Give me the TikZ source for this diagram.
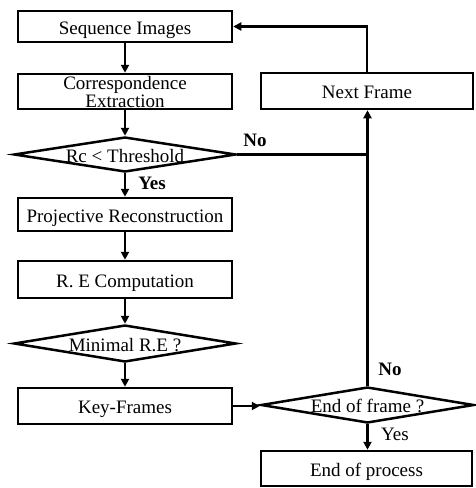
\documentclass[tikz,border=0pt]{standalone}
\usepackage{fontspec}
\setmainfont{Liberation Serif}
\usetikzlibrary{shapes.geometric,arrows.meta}
\begin{document}
\begin{tikzpicture}[x=1pt,y=-1pt,
  box/.style={draw,line width=2.5pt,minimum width=214pt,inner sep=0pt,align=center,font=\fontsize{19}{18}\selectfont},
  one/.style={text height=15pt,text depth=0pt},
  dia/.style={draw,diamond,line width=2.5pt,inner sep=0pt},
  txt/.style={inner sep=0pt,text height=15pt,text depth=0pt,font=\fontsize{19}{18}\selectfont},
  lbl/.style={txt,font=\fontsize{19}{18}\selectfont\bfseries},
  arr/.style={line width=2.5pt,-{Triangle[length=8pt,width=8pt]}},
  ln/.style={line width=2.5pt}]
\useasboundingbox[fill=white] (0,0) rectangle (475,488);
% left column
\node[box,one,minimum height=31pt] (seq) at (125,26.5) {Sequence Images};
\node[box,minimum height=35pt] (corr) at (125,91.5) {Correspondence\\Extraction};
\node[dia,minimum width=222pt,minimum height=35pt] (rc) at (125,154.5) {};
\node[txt] (rct) at (125,154.5) {Rc < Threshold};
\node[box,one,minimum height=33pt] (proj) at (125,214.5) {Projective Reconstruction};
\node[box,one,minimum height=37pt] (re) at (125,279.5) {R. E Computation};
\node[dia,minimum width=222pt,minimum height=37pt] (min) at (125,343.5) {};
\node[txt] (mint) at (125,343.5) {Minimal R.E ?};
\node[box,one,minimum height=36pt] (key) at (125,406) {Key-Frames};
% right column
\node[box,one,minimum width=212pt,minimum height=36pt] (next) at (367,91) {Next Frame};
\node[dia,minimum width=213pt,minimum height=36pt] (eof) at (367.5,405) {};
\node[txt] (eoft) at (367.5,405) {End of frame ?};
\node[box,one,minimum width=211pt,minimum height=35pt] (end) at (366.5,468.5) {End of process};
% connectors
\draw[arr] (seq) -- (corr);
\draw[arr] (corr) -- (rc);
\draw[arr] (rc) -- (proj);
\draw[arr] (proj) -- (re);
\draw[arr] (re) -- (min);
\draw[arr] (min) -- (key);
\draw[arr] (key.east) -- (key.east -| eof.west);
\draw[arr] (eof.south) -- (eof.south |- end.north);
\draw[arr] (eof.north) -- (eof.north |- next.south);
\draw[ln] (rc.east) -- (rc.east -| eof.north);
\draw[arr] (next.north) |- (seq.east);
% labels
\node[lbl] (no1) at (255,139) {No};
\node[lbl] (yes1) at (152,182) {Yes};
\node[lbl] (no2) at (390,368) {No};
\node[txt] (yes2) at (395,433) {Yes};
\end{tikzpicture}
\end{document}
